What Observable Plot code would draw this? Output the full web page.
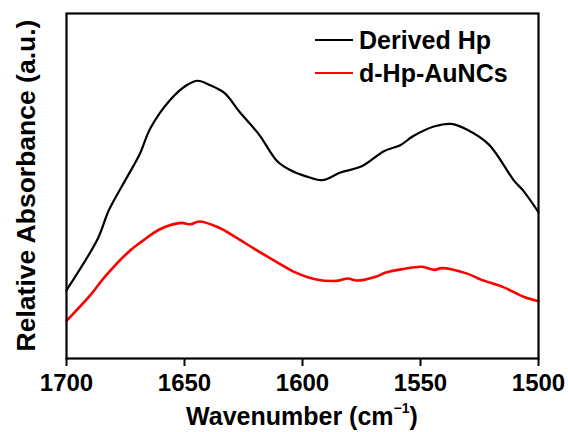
<!DOCTYPE html>
<html>
<head>
<meta charset="utf-8">
<script src="https://cdn.jsdelivr.net/npm/d3@7"></script>
<script src="https://cdn.jsdelivr.net/npm/@observablehq/plot@0.6"></script>
<style>
  html, body { margin: 0; padding: 0; background: #fff; }
  #chart { width: 568px; height: 432px; }
</style>
</head>
<body>
<div id="chart"></div>
<script>
// Wavenumber (cm-1) and relative absorbance (a.u., normalized to plot height)
const derivedWn = [1700, 1686.7, 1682.1, 1674.4, 1669, 1664.4, 1656, 1649.1, 1644.5, 1639.1, 1633, 1626.8, 1618.4, 1610.7, 1604.6, 1598.5, 1591.6, 1583.9, 1574.7, 1565.5, 1558.6, 1553.2, 1544, 1537.1, 1530.2, 1521, 1510.3, 1506.4, 1500];
const derivedAbs = [0.198, 0.348, 0.429, 0.525, 0.592, 0.668, 0.75, 0.792, 0.805, 0.792, 0.769, 0.716, 0.649, 0.572, 0.544, 0.528, 0.517, 0.539, 0.558, 0.601, 0.618, 0.644, 0.673, 0.68, 0.663, 0.62, 0.515, 0.486, 0.424];

const auncWn = [1700, 1689.7, 1683.6, 1672.9, 1668.3, 1660.6, 1651.4, 1647.5, 1643.7, 1636, 1628.4, 1620.7, 1610, 1603.8, 1594.6, 1585.4, 1580.8, 1577, 1568.6, 1564.7, 1557.8, 1549.4, 1544, 1541, 1530.2, 1524.1, 1514.9, 1506.4, 1500];
const auncAbs = [0.109, 0.185, 0.238, 0.314, 0.338, 0.374, 0.393, 0.389, 0.397, 0.381, 0.352, 0.319, 0.276, 0.252, 0.23, 0.225, 0.232, 0.226, 0.238, 0.249, 0.259, 0.266, 0.257, 0.262, 0.246, 0.228, 0.207, 0.179, 0.166];

const xTicks = [1700, 1650, 1600, 1550, 1500];
const seriesNames = ["Derived Hp", "d-Hp-AuNCs"];
const seriesColors = ["#000000", "#ff0000"];

const derived = derivedWn.map((w, i) => ({wn: w, abs: derivedAbs[i]}));
const aunc = auncWn.map((w, i) => ({wn: w, abs: auncAbs[i]}));

const FONT = "'Liberation Sans', Arial, sans-serif";
const W = 568, H = 432;
const mL = 66, mR = 30, mT = 13, mB = 74;

const plot = Plot.plot({
  width: W,
  height: H,
  marginLeft: mL,
  marginRight: mR,
  marginTop: mT,
  marginBottom: mB,
  style: {fontFamily: FONT, background: "#fff", color: "#000", overflow: "visible"},
  x: {domain: [1700, 1500], ticks: xTicks},
  y: {domain: [0, 1], axis: null},
  marks: [
    Plot.axisX({ticks: xTicks, tickSize: 8, tickPadding: 7, fontSize: 24, fontWeight: "bold", strokeWidth: 2, label: null, tickFormat: d => String(d)}),
    Plot.line(derived, {x: "wn", y: "abs", stroke: seriesColors[0], strokeWidth: 2.2, curve: "catmull-rom"}),
    Plot.line(aunc, {x: "wn", y: "abs", stroke: seriesColors[1], strokeWidth: 2.6, curve: "catmull-rom"}),
    Plot.frame({stroke: "#000", strokeWidth: 2.2})
  ]
});
document.getElementById("chart").appendChild(plot);

const svg = d3.select(plot);
// X-axis title with superscript
const xt = svg.append("text")
  .attr("x", (mL + (W - mR)) / 2)
  .attr("y", 425)
  .attr("text-anchor", "middle")
  .attr("font-family", FONT)
  .attr("font-weight", "bold")
  .attr("font-size", 25)
  .attr("fill", "#000");
xt.append("tspan").text("Wavenumber (cm");
xt.append("tspan").attr("font-size", 14).attr("dy", -12).text("\u22121");
xt.append("tspan").attr("dy", 12).text(")");

// Y-axis title
svg.append("text")
  .attr("transform", `translate(35, ${(mT + (H - mB)) / 2}) rotate(-90)`)
  .attr("text-anchor", "middle")
  .attr("font-family", FONT)
  .attr("font-weight", "bold")
  .attr("font-size", 26.5)
  .attr("fill", "#000")
  .text("Relative Absorbance (a.u.)");

// Legend
const legY = [40, 73];
seriesNames.forEach((name, i) => {
  svg.append("line")
    .attr("x1", 315).attr("x2", 353)
    .attr("y1", legY[i]).attr("y2", legY[i])
    .attr("stroke", seriesColors[i]).attr("stroke-width", 2.2);
  svg.append("text")
    .attr("x", 359).attr("y", legY[i])
    .attr("dy", "0.36em")
    .attr("text-anchor", "start")
    .attr("font-family", FONT)
    .attr("font-weight", "bold")
    .attr("font-size", 25)
    .attr("fill", "#000")
    .text(name);
});
</script>
</body>
</html>
